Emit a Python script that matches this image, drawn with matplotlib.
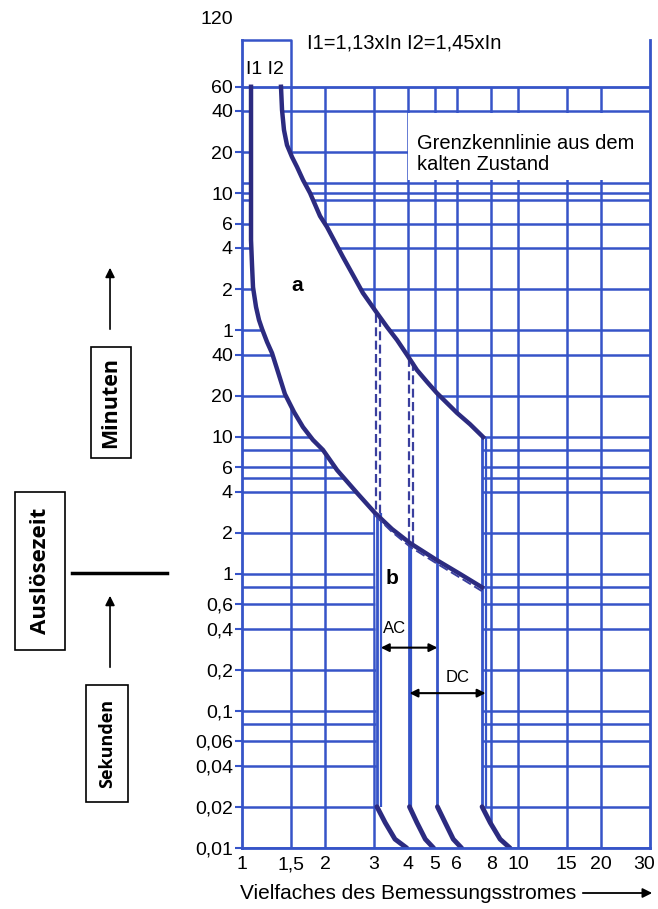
import numpy as np
import matplotlib.pyplot as plt
from matplotlib.patches import Rectangle, FancyArrowPatch
from matplotlib.transforms import ScaledTranslation

plt.rcParams['font.family'] = ['Liberation Sans', 'DejaVu Sans']

# x: Vielfaches des Bemessungsstromes, y: Auslösezeit in Sekunden
x_ticks = [1, 1.5, 2, 3, 4, 5, 6, 8, 10, 15, 20, 30]
x_labels = ['1', '1,5', '2', '3', '4', '5', '6', '8', '10', '15', '20', '30']
x_grid = [1.5, 2, 3, 4, 5, 6, 8, 10, 15, 20]

y_ticks = [3600, 2400, 1200, 600, 360, 240, 120, 60, 40, 20, 10, 6, 4, 2, 1,
           0.6, 0.4, 0.2, 0.1, 0.06, 0.04, 0.02, 0.01]
y_labels = ['60', '40', '20', '10', '6', '4', '2', '1', '40', '20', '10', '6', '4',
            '2', '1', '0,6', '0,4', '0,2', '0,1', '0,06', '0,04', '0,02', '0,01']
y_grid_extra = [720, 540, 8, 5, 0.8, 0.08]

# Grenzkennlinie unten (I1) und oben (I2)
lower_x = [1.078, 1.078, 1.078, 1.087, 1.096, 1.124, 1.152, 1.182, 1.232, 1.284, 1.35,
           1.43, 1.543, 1.663, 1.807, 1.964, 2.208, 2.61, 3.03,
           3.49, 4.06, 5.08, 6.16, 7.39]
lower_t = [3600, 537, 274, 180, 124, 88.9, 71.5, 61.4, 49.4, 41, 29.8,
           20.6, 15.2, 11.8, 9.51, 8.04, 5.74, 3.9, 2.79,
           2.13, 1.68, 1.26, 1.0, 0.80]
lower2_x = [3.03, 3.49, 4.06, 5.08, 6.16, 7.39]
lower2_t = [2.68, 2.03, 1.58, 1.19, 0.94, 0.75]
upper_x = [1.384, 1.396, 1.419, 1.455, 1.517, 1.582, 1.663, 1.763, 1.916, 2.031, 2.171,
           2.32, 2.523, 2.74, 3.08, 3.35, 3.64, 3.96, 4.30, 4.68, 5.08, 6.0, 6.69, 7.46]
upper_t = [3600, 2438, 1741, 1352, 1106, 935, 751, 604, 410, 341, 265,
           206, 152, 112.5, 80.4, 63.5, 51.1, 39.7, 30.8, 25.2, 20.9, 15.0, 12.4, 10.0]

# magnetische Auslösung: senkrechte Linien und Ausläufer unten
mag_x = [3.08, 4.04, 5.10, 7.40]
mag_x2 = [3.18, 4.10, 5.14, 7.62]
mag_top = [2.8, 1.72, 20.5, 10]
dash_x = [3.05, 3.16, 4.02, 4.16]
dash_top = [79, 74, 38, 35]
dash_bot = [2.8, 2.72, 1.72, 1.66]
hook_t = [0.02, 0.0153, 0.0116, 0.01]
hook_x = [[3.08, 3.30, 3.58, 3.95],
          [4.04, 4.30, 4.61, 4.94],
          [5.10, 5.44, 5.82, 6.24],
          [7.40, 7.92, 8.60, 9.34]]

grid_c = '#3654c8'
curve_c = '#2c2b80'
dash_c = '#3a3f9e'
t_min, t_max = 0.01, 7900

fig = plt.figure(figsize=(6.58, 9.09), dpi=100)
ax = fig.add_axes([0.3678, 0.0671, 0.62, 0.8889])
ax.set_xscale('log')
ax.set_yscale('log')
ax.set_xlim(1, 30)
ax.set_ylim(t_min, t_max)

# Raster
ax.hlines(y_ticks[1:] + y_grid_extra, 1, 30, color=grid_c, lw=1.8, zorder=1)
ax.vlines(x_grid, t_min, y_ticks[0], color=grid_c, lw=1.8, zorder=1)

# Auslösebereich weiß
poly_x = lower_x[:19] + hook_x[0] + hook_x[3][::-1] + upper_x[::-1]
poly_t = lower_t[:19] + hook_t + hook_t[::-1] + upper_t[::-1]
ax.fill(poly_x, poly_t, color='white', lw=0, zorder=2)
# freie Fläche hinter dem Text oben rechts
ax.fill_between([4, 30], 745, 2320, color='white', lw=0, zorder=2)
ax.hlines(y_ticks[0], 1, 30, color=grid_c, lw=2, zorder=3)

# Kasten I1 I2
ax.plot([1, x_grid[0], x_grid[0]], [t_max, t_max, y_ticks[0]], color=grid_c, lw=1.8,
        clip_on=False, zorder=3)

# senkrechte Linien
for i in range(4):
    ax.vlines(mag_x[i], hook_t[0], mag_top[i], color=grid_c, lw=2, zorder=3)
    if i != 2:
        ax.vlines(mag_x2[i], hook_t[0], mag_top[i], color=grid_c, lw=1.6, zorder=3)
    ax.plot(hook_x[i], hook_t, color=curve_c, lw=3.5, solid_capstyle='round', zorder=4)
for i in range(4):
    ax.plot([dash_x[i], dash_x[i]], [dash_top[i], dash_bot[i]], color=dash_c,
            lw=1.6, ls=(0, (4, 2)), zorder=3)

ax.plot(lower_x, lower_t, color=curve_c, lw=3.2, zorder=4)
ax.plot(lower2_x, lower2_t, color=dash_c, lw=1.4, ls=(0, (5, 2)), zorder=4)
ax.plot(upper_x, upper_t, color=curve_c, lw=3.2, zorder=4)

# Achsen
for s in ['left', 'right', 'bottom']:
    ax.spines[s].set_color(grid_c)
    ax.spines[s].set_linewidth(2)
    ax.spines[s].set_zorder(5)
ax.spines['top'].set_visible(False)
ax.set_xticks(x_ticks, x_labels)
ax.set_yticks(y_ticks, y_labels)
ax.minorticks_off()
ax.tick_params(axis='x', length=0, pad=6, labelsize=14)
ax.tick_params(axis='y', length=5, width=1.5, color=grid_c, pad=1.5, labelsize=14)
last = ax.get_xticklabels()[-1]
last.set_transform(last.get_transform() + ScaledTranslation(-4 / 72, 0, fig.dpi_scale_trans))

ax.text(-0.022, 1.025, '120', transform=ax.transAxes, ha='right', va='center', fontsize=14)
ax.text(1.035, 4800, 'I1 I2', ha='left', va='center', fontsize=14)
ax.text(1.72, 7500, 'I1=1,13xIn I2=1,45xIn', ha='left', va='center', fontsize=14.5)
ax.text(4.3, 1164, 'Grenzkennlinie aus dem\nkalten Zustand', ha='left', va='center',
        fontsize=14.5, linespacing=1.1, zorder=6)
ax.text(1.58, 128, 'a', ha='center', va='center', fontsize=15, fontweight='bold')
ax.text(3.49, 0.93, 'b', ha='center', va='center', fontsize=15, fontweight='bold')

arrow = dict(arrowstyle='<|-|>', color='black', lw=1.5, shrinkA=0, shrinkB=0,
             mutation_scale=12)
ax.annotate('', xy=(mag_x[2], 0.29), xytext=(mag_x2[0], 0.29), arrowprops=arrow, zorder=6)
ax.text(3.58, 0.40, 'AC', ha='center', va='center', fontsize=12)
ax.annotate('', xy=(mag_x2[3], 0.135), xytext=(mag_x[1], 0.135), arrowprops=arrow, zorder=6)
ax.text(6.06, 0.177, 'DC', ha='center', va='center', fontsize=12)

# Achsenbeschriftung unten
fig.text(0.3647, 0.0176, 'Vielfaches des Bemessungsstromes', ha='left', va='center', fontsize=15)
fig.patches.append(FancyArrowPatch((0.8815, 0.0176), (0.9954, 0.0176), transform=fig.transFigure,
                                   arrowstyle='-|>', mutation_scale=14, color='black', lw=1.3))

# linke Seite: Auslösezeit
bold = dict(family='Open Sans', fontweight='bold', rotation=90, ha='center', va='center')
boxes = [(0.1383, 0.4961, 0.0608, 0.1221), (0.0228, 0.2849, 0.0760, 0.1738),
         (0.1307, 0.1177, 0.0638, 0.1287)]
for b in boxes:
    fig.patches.append(Rectangle(b[:2], b[2], b[3], transform=fig.transFigure,
                                 fill=False, ec='black', lw=1.2))
fig.text(0.1687, 0.5572, 'Minuten', fontsize=15.5, **bold)
fig.text(0.0608, 0.3718, 'Auslösezeit', fontsize=16, **bold)
fig.text(0.1626, 0.1821, 'Sekunden', fontsize=13, **bold)
fig.lines.append(plt.Line2D([0.1094, 0.2538], [0.3696, 0.3696], transform=fig.transFigure,
                            color='black', lw=2.5))
for y0, y1 in [(0.6348, 0.7085), (0.2629, 0.3476)]:
    fig.patches.append(FancyArrowPatch((0.1672, y0), (0.1672, y1), transform=fig.transFigure,
                                       arrowstyle='-|>', mutation_scale=14, color='black', lw=1.2))

fig.savefig('out.png', dpi=100)
